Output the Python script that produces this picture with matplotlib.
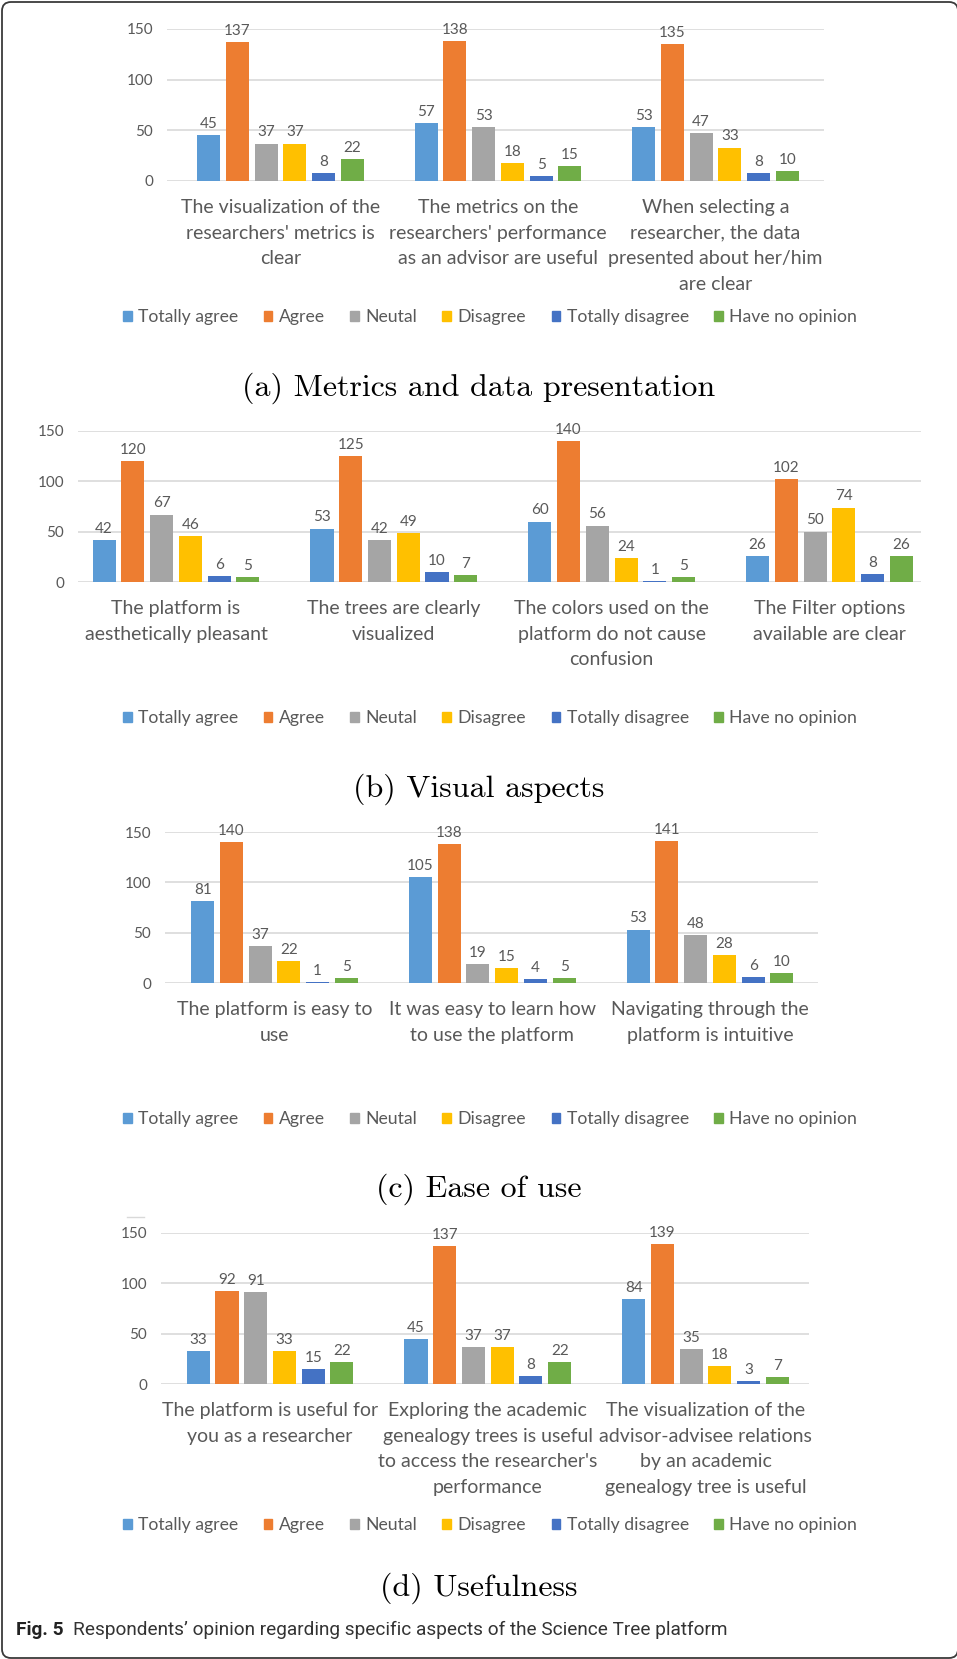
import matplotlib.pyplot as plt
import numpy as np
from matplotlib.patches import Patch, FancyBboxPatch

# ---- data ----
series = ["Totally agree", "Agree", "Neutal", "Disagree", "Totally disagree", "Have no opinion"]
colors = ["#5B9BD5", "#ED7D31", "#A5A5A5", "#FFC000", "#4472C4", "#70AD47"]

cats_a = ["The visualization of the\nresearchers' metrics is\nclear",
          "The metrics on the\nresearchers' performance\nas an advisor are useful",
          "When selecting a\nresearcher, the data\npresented about her/him\nare clear"]
vals_a = [[45, 137, 37, 37, 8, 22],
          [57, 138, 53, 18, 5, 15],
          [53, 135, 47, 33, 8, 10]]

cats_b = ["The platform is\naesthetically pleasant",
          "The trees are clearly\nvisualized",
          "The colors used on the\nplatform do not cause\nconfusion",
          "The Filter options\navailable are clear"]
vals_b = [[42, 120, 67, 46, 6, 5],
          [53, 125, 42, 49, 10, 7],
          [60, 140, 56, 24, 1, 5],
          [26, 102, 50, 74, 8, 26]]

cats_c = ["The platform is easy to\nuse",
          "It was easy to learn how\nto use the platform",
          "Navigating through the\nplatform is intuitive"]
vals_c = [[81, 140, 37, 22, 1, 5],
          [105, 138, 19, 15, 4, 5],
          [53, 141, 48, 28, 6, 10]]

cats_d = ["The platform is useful for\nyou as a researcher",
          "Exploring the academic\ngenealogy trees is useful\nto access the researcher's\nperformance",
          "The visualization of the\nadvisor-advisee relations\nby an academic\ngenealogy tree is useful"]
vals_d = [[33, 92, 91, 33, 15, 22],
          [45, 137, 37, 37, 8, 22],
          [84, 139, 35, 18, 3, 7]]

titles = ["(a) Metrics and data presentation", "(b) Visual aspects",
          "(c) Ease of use", "(d) Usefulness"]
caption = "Respondents\u2019 opinion regarding specific aspects of the Science Tree platform"

W, H = 957, 1659
TXT = "#595959"
SANS = ["Lato", "DejaVu Sans"]

fig = plt.figure(figsize=(W / 100, H / 100), dpi=100)

# overlay in pixel units for the frame and the captions
ov = fig.add_axes([0, 0, 1, 1])
ov.set_xlim(0, W)
ov.set_ylim(H, 0)
ov.axis("off")
ov.add_patch(FancyBboxPatch((2, 2), 956, 1656, boxstyle="round,pad=0,rounding_size=9",
                            fill=False, ec="#3a3a3a", lw=1.3))
ov.plot([127, 144], [1217, 1217], color="#D9D9D9", lw=1)


def panel(rect, xlim, cats, rows, legend_y, title, title_y):
    l, r, t, b = rect
    ax = fig.add_axes([l / W, 1 - b / H, (r - l) / W, (b - t) / H])
    data = np.array(rows).T
    x = np.arange(len(cats))
    slot, bw = 0.132, 0.106
    for k in range(len(series)):
        bars = ax.bar(x + (k - 2.5) * slot, data[k], bw, color=colors[k], zorder=2)
        ax.bar_label(bars, padding=3, color=TXT, fontsize=11, family=SANS)
    ax.set_xlim(*xlim)
    ax.set_ylim(0, 150)
    ax.set_yticks([0, 50, 100, 150])
    ax.grid(axis="y", color="#D9D9D9", lw=1.2, zorder=0)
    ax.set_xticks(x, cats)
    for s in ax.spines.values():
        s.set_visible(False)
    ax.tick_params(axis="y", length=0, pad=10, labelsize=11, labelcolor=TXT)
    ax.tick_params(axis="x", length=0, pad=13, labelsize=14, labelcolor=TXT)
    for lab in ax.get_xticklabels() + ax.get_yticklabels():
        lab.set_family(SANS)
    for lab in ax.get_xticklabels():
        lab.set_linespacing(1.62)
    handles = [Patch(color=c) for c in colors]
    ax.legend(handles, series, loc="center", bbox_to_anchor=(490 / W, 1 - legend_y / H),
              bbox_transform=fig.transFigure, ncol=6, frameon=False,
              handlelength=0.5, handleheight=0.5, handletextpad=0.35,
              columnspacing=1.45, labelcolor=TXT,
              prop={"family": SANS, "size": 12.7})
    ov.text(478.5, title_y, title, ha="center", va="center", family="cmr10",
            fontsize=23, color="black")


panel((167, 824, 29, 181), (-0.522, 2.499), cats_a, vals_a, 317, titles[0], 388)
panel((78, 921, 431, 582), (-0.45, 3.42), cats_b, vals_b, 718, titles[1], 789)
panel((165, 818, 832, 983), (-0.503, 2.496), cats_c, vals_c, 1119, titles[2], 1189)
panel((161, 809, 1233, 1384), (-0.501, 2.475), cats_d, vals_d, 1525, titles[3], 1588)

cap_font = ["Roboto", "DejaVu Sans"]
ov.text(16, 1635, "Fig. 5", fontweight="bold", family=cap_font, fontsize=13.7,
        va="baseline", color="#222222")
ov.text(73, 1635, caption, family=cap_font, fontsize=13.7, va="baseline", color="#333333")

fig.savefig("out.png", dpi=100)
